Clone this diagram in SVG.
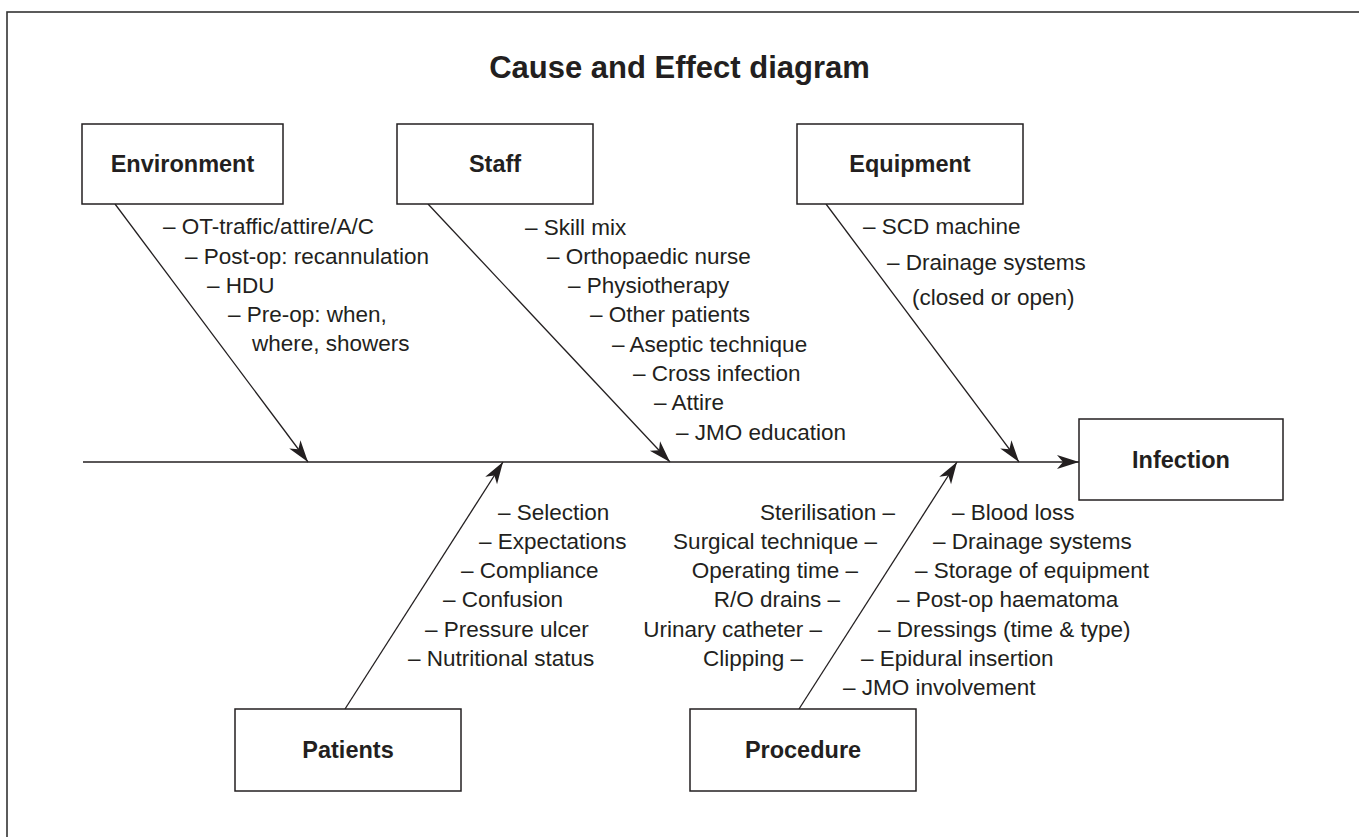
<svg xmlns="http://www.w3.org/2000/svg" width="1359" height="837" viewBox="0 0 1359 837">
<defs>
<style>
.box{fill:#fff;stroke:#231f20;stroke-width:1.5}
.lbl{font-family:"Liberation Sans",Arial,sans-serif;font-weight:bold;font-size:23.5px;fill:#231f20;text-anchor:middle}
.t{font-family:"Liberation Sans",Arial,sans-serif;font-size:22.5px;fill:#231f20}
.e{text-anchor:end}
.ln{stroke:#231f20;stroke-width:1.3;fill:none;marker-end:url(#ah)}
</style>
<marker id="ah" markerUnits="userSpaceOnUse" markerWidth="24" markerHeight="16" viewBox="0 -8 24 16" refX="22" refY="0" orient="auto">
<path d="M0,-7 L22,0 L0,7 L6,0 Z" fill="#231f20"/>
</marker>
</defs>
<rect x="7" y="12" width="1400" height="900" fill="none" stroke="#333" stroke-width="1.6"/>
<text x="679.5" y="78" font-family="'Liberation Sans',Arial,sans-serif" font-weight="bold" font-size="31" fill="#231f20" text-anchor="middle">Cause and Effect diagram</text>

<g id="connectors">
<line class="ln" x1="83" y1="462" x2="1079" y2="462"/>
<line class="ln" x1="115" y1="204" x2="308" y2="462"/>
<line class="ln" x1="428" y1="204" x2="670" y2="462"/>
<line class="ln" x1="826" y1="204" x2="1019" y2="462"/>
<line class="ln" x1="345" y1="709" x2="503" y2="462"/>
<line class="ln" x1="799" y1="709" x2="957" y2="462"/>
</g>

<g id="environment">
<rect class="box" x="82" y="124" width="201" height="80"/>
<text class="lbl" x="182.5" y="172">Environment</text>
<text class="t" x="163" y="234">– OT-traffic/attire/A/C</text>
<text class="t" x="185" y="264">– Post-op: recannulation</text>
<text class="t" x="207" y="293">– HDU</text>
<text class="t" x="228" y="322">– Pre-op: when,</text>
<text class="t" x="252" y="351">where, showers</text>
</g>

<g id="staff">
<rect class="box" x="397" y="124" width="196" height="80"/>
<text class="lbl" x="495" y="172">Staff</text>
<text class="t" x="525" y="235">– Skill mix</text>
<text class="t" x="547" y="264">– Orthopaedic nurse</text>
<text class="t" x="568" y="293">– Physiotherapy</text>
<text class="t" x="590" y="322">– Other patients</text>
<text class="t" x="612" y="352">– Aseptic technique</text>
<text class="t" x="633" y="381">– Cross infection</text>
<text class="t" x="654" y="410">– Attire</text>
<text class="t" x="676" y="440">– JMO education</text>
</g>

<g id="equipment">
<rect class="box" x="797" y="124" width="226" height="80"/>
<text class="lbl" x="910" y="172">Equipment</text>
<text class="t" x="863" y="234" font-size="21.5">– SCD machine</text>
<text class="t" x="887" y="270" font-size="21.5">– Drainage systems</text>
<text class="t" x="912" y="305" font-size="21.5">(closed or open)</text>
</g>

<g id="infection">
<rect class="box" x="1079" y="419" width="204" height="81"/>
<text class="lbl" x="1181" y="468">Infection</text>
</g>

<g id="patients">
<rect class="box" x="235" y="709" width="226" height="82"/>
<text class="lbl" x="348" y="758">Patients</text>
<text class="t" x="498" y="520">– Selection</text>
<text class="t" x="479" y="549">– Expectations</text>
<text class="t" x="461" y="578">– Compliance</text>
<text class="t" x="443" y="607">– Confusion</text>
<text class="t" x="425" y="637">– Pressure ulcer</text>
<text class="t" x="408" y="666">– Nutritional status</text>
</g>

<g id="procedure">
<rect class="box" x="690" y="709" width="226" height="82"/>
<text class="lbl" x="803" y="758">Procedure</text>
<text class="t e" x="895" y="520">Sterilisation –</text>
<text class="t e" x="877" y="549">Surgical technique –</text>
<text class="t e" x="858" y="578">Operating time –</text>
<text class="t e" x="840" y="607">R/O drains –</text>
<text class="t e" x="822" y="637">Urinary catheter –</text>
<text class="t e" x="803" y="666">Clipping –</text>
<text class="t" x="952" y="520">– Blood loss</text>
<text class="t" x="933" y="549">– Drainage systems</text>
<text class="t" x="915" y="578">– Storage of equipment</text>
<text class="t" x="897" y="607">– Post-op haematoma</text>
<text class="t" x="878" y="637">– Dressings (time &amp; type)</text>
<text class="t" x="861" y="666">– Epidural insertion</text>
<text class="t" x="843" y="695">– JMO involvement</text>
</g>
</svg>
